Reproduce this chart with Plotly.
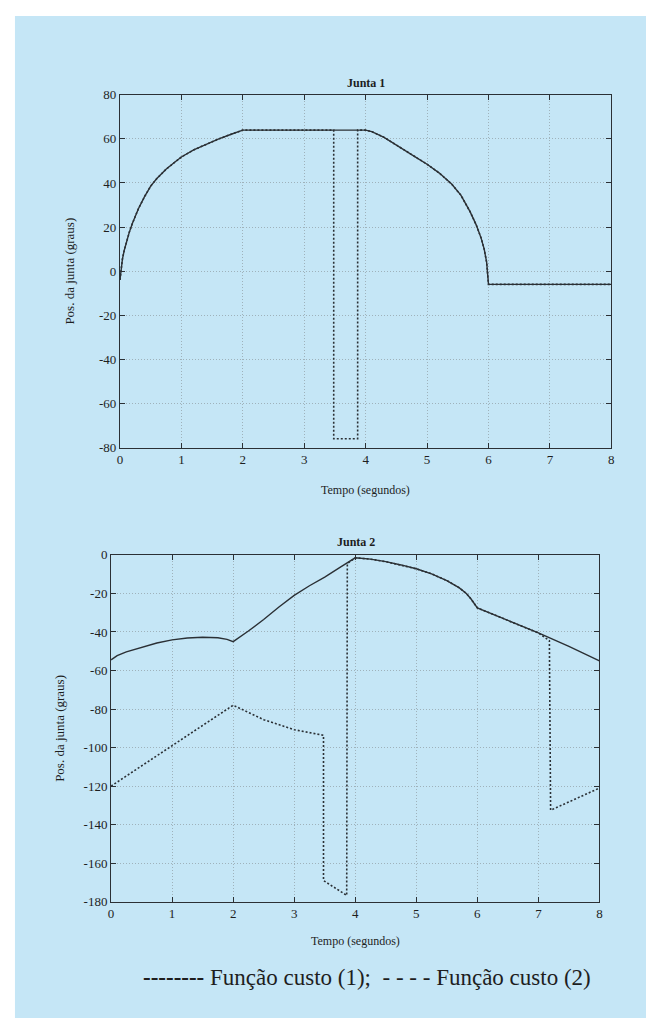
import plotly.graph_objects as go

# Page body has an 8px margin; keep the figure inside the 657x1034 window
OFF = 8
W, H = 657 - 2 * OFF, 1034 - 2 * OFF

# ---------------- data ----------------
x_ticks = [0, 1, 2, 3, 4, 5, 6, 7, 8]
y1_ticks = [-80, -60, -40, -20, 0, 20, 40, 60, 80]
y2_ticks = [-180, -160, -140, -120, -100, -80, -60, -40, -20, 0]

# Junta 1 - Função custo (1) (solid)
j1_t1 = [0, 0.01, 0.02, 0.04, 0.07, 0.1, 0.15, 0.2, 0.3, 0.4, 0.5, 0.6, 0.75,
         0.9, 1.0, 1.2, 1.4, 1.6, 1.8, 2.0,
         4.0, 4.1, 4.3, 4.55, 4.8, 5.0, 5.2, 5.4, 5.55, 5.7, 5.8, 5.88, 5.93,
         5.97, 5.99, 6.0, 8.0]
j1_v1 = [-4, -1, 2, 5.5, 9.5, 13, 17.5, 21.5, 28.3, 33.8, 38.6, 42, 46.2,
         49.6, 51.8, 55, 57.6, 59.9, 62, 64,
         64, 63.3, 60.7, 56.5, 52, 48.5, 44.5, 39.5, 34.5, 27, 21, 15, 10,
         4, -1, -6, -6]

# Junta 1 - Função custo (2) (dotted): same path plus the excursion at 3.48-3.87 s
j1_t2 = [0, 0.01, 0.02, 0.04, 0.07, 0.1, 0.15, 0.2, 0.3, 0.4, 0.5, 0.6, 0.75,
         0.9, 1.0, 1.2, 1.4, 1.6, 1.8, 2.0,
         3.48, 3.48, 3.87, 3.87,
         4.0, 4.1, 4.3, 4.55, 4.8, 5.0, 5.2, 5.4, 5.55, 5.7, 5.8, 5.88, 5.93,
         5.97, 5.99, 6.0, 8.0]
j1_v2 = [-4, -1, 2, 5.5, 9.5, 13, 17.5, 21.5, 28.3, 33.8, 38.6, 42, 46.2,
         49.6, 51.8, 55, 57.6, 59.9, 62, 64,
         64, -76, -76, 64,
         64, 63.3, 60.7, 56.5, 52, 48.5, 44.5, 39.5, 34.5, 27, 21, 15, 10,
         4, -1, -6, -6]

# Junta 2 - Função custo (1) (solid)
j2_t1 = [0, 0.1, 0.25, 0.5, 0.75, 1.0, 1.25, 1.5, 1.75, 1.9, 2.0, 2.25, 2.5,
         2.75, 3.0, 3.25, 3.5, 3.75, 4.0, 4.25, 4.5, 4.75, 5.0, 5.25, 5.5,
         5.7, 5.82, 5.9, 6.0, 6.5, 7.0, 7.5, 8.0]
j2_v1 = [-54.5, -52.3, -50.3, -47.8, -45.7, -44.1, -43.1, -42.7, -43, -43.8,
         -45, -39.5, -33.5, -27, -21, -16, -11.5, -6.5, -1.5, -2.2, -3.5,
         -5.2, -7.2, -9.8, -13.3, -17, -20, -23, -27.5, -34, -40.5, -47.5, -55]

# Junta 2 - Função custo (2) (dotted)
j2_t2 = [0, 2.0, 2.5, 3.0, 3.48, 3.48, 3.86, 3.87, 4.0, 4.25, 4.5, 4.75, 5.0,
         5.25, 5.5, 5.7, 5.82, 5.9, 6.0, 6.5, 7.0, 7.18, 7.2, 8.0]
j2_v2 = [-120, -78, -85.5, -90.7, -93.6, -169, -176.7, -4.5, -1.5, -2.2, -3.5,
         -5.2, -7.2, -9.8, -13.3, -17, -20, -23, -27.5, -34, -40.5, -44.5,
         -132.5, -121]

# ---------------- styling ----------------
BG = "#c5e6f6"
INK = "#2b3035"
GRID = "#9fb2bb"
FONT = "Liberation Serif"


def px_x(p):
    return (p - OFF) / W


def px_y(p):
    return 1 - (p - OFF) / H


def labels(vals):
    return [str(v) for v in vals]  # ASCII hyphen-minus as in the original


fig = go.Figure()

line_solid = dict(color=INK, width=1.4)
line_dot = dict(color=INK, width=1.6, dash="2px,2px")

fig.add_trace(go.Scatter(x=j1_t2, y=j1_v2, mode="lines", line=line_dot,
                         xaxis="x", yaxis="y", showlegend=False))
fig.add_trace(go.Scatter(x=j1_t1, y=j1_v1, mode="lines", line=line_solid,
                         xaxis="x", yaxis="y", showlegend=False))
fig.add_trace(go.Scatter(x=j2_t2, y=j2_v2, mode="lines", line=line_dot,
                         xaxis="x2", yaxis="y2", showlegend=False))
fig.add_trace(go.Scatter(x=j2_t1, y=j2_v1, mode="lines", line=line_solid,
                         xaxis="x2", yaxis="y2", showlegend=False))

axis_common = dict(
    showline=True, linecolor=INK, linewidth=1, mirror="allticks",
    ticks="inside", ticklen=5, tickcolor=INK, tickwidth=1,
    showgrid=True, gridcolor=GRID, gridwidth=1, griddash="1px,2px",
    zeroline=False, tickfont=dict(family=FONT, size=13, color="#1e1e1e"),
    fixedrange=True,
)

top = dict(l=118, r=614, t=89, b=447)
bot = dict(l=109, r=602, t=556, b=908)

fig.update_layout(
    width=W, height=H,
    margin=dict(l=0, r=0, t=0, b=0),
    paper_bgcolor="white",
    plot_bgcolor="rgba(0,0,0,0)",
    showlegend=False,
    xaxis=dict(axis_common, domain=[px_x(top["l"]), px_x(top["r"])], range=[0, 8],
               tickvals=x_ticks, ticktext=labels(x_ticks), anchor="y"),
    yaxis=dict(axis_common, domain=[px_y(top["b"]), px_y(top["t"])], range=[-80, 80],
               tickvals=y1_ticks, ticktext=labels(y1_ticks), anchor="x"),
    xaxis2=dict(axis_common, domain=[px_x(bot["l"]), px_x(bot["r"])], range=[0, 8],
                tickvals=x_ticks, ticktext=labels(x_ticks), anchor="y2"),
    yaxis2=dict(axis_common, domain=[px_y(bot["b"]), px_y(bot["t"])], range=[-180, 0],
                tickvals=y2_ticks, ticktext=labels(y2_ticks), anchor="x2"),
    shapes=[dict(type="rect", xref="paper", yref="paper", layer="below",
                 x0=px_x(12), x1=1, y0=0, y1=px_y(9),
                 fillcolor=BG, line=dict(width=0))],
)


def ann(text, x, y, size=12, angle=0, bold=False):
    fig.add_annotation(
        text=f"<b>{text}</b>" if bold else text,
        xref="paper", yref="paper", x=px_x(x), y=px_y(y),
        xanchor="center", yanchor="middle", showarrow=False, textangle=angle,
        font=dict(family=FONT, size=size, color="#1e1e1e"),
    )


ann("Junta 1", 366, 77, size=12, bold=True)
ann("Tempo (segundos)", 366, 490, size=12)
ann("Pos. da junta (graus)", 67, 268, size=13, angle=-90)

ann("Junta 2", 356, 543, size=12, bold=True)
ann("Tempo (segundos)", 356, 948, size=12)
ann("Pos. da junta (graus)", 57, 732, size=13, angle=-90)

ann("<b>--------</b> Função custo (1);  - - - - Função custo (2)", 367, 985, size=23)

fig.write_html("out.html", config={"displayModeBar": False})
